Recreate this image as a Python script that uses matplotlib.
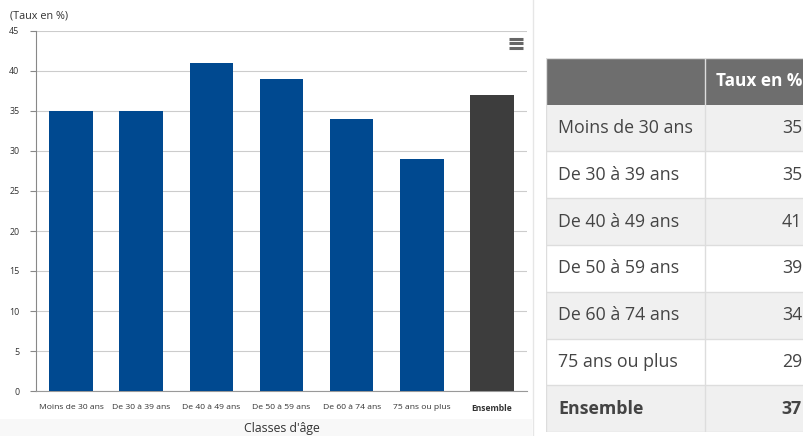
import matplotlib.pyplot as plt
from matplotlib.patches import Rectangle

# data
categories = ["Moins de 30 ans", "De 30 à 39 ans", "De 40 à 49 ans", "De 50 à 59 ans",
              "De 60 à 74 ans", "75 ans ou plus", "Ensemble"]
values = [35, 35, 41, 39, 34, 29, 37]
yticks = [0, 5, 10, 15, 20, 25, 30, 35, 40, 45]
table_header = "Taux en %"

plt.rcParams['font.family'] = ['Open Sans', 'DejaVu Sans']

W, H = 804, 436
fig = plt.figure(figsize=(W / 100, H / 100), dpi=100)

def fx(px):
    return px / W

def fy(py):
    return 1 - py / H

# light band at bottom of chart panel
fig.patches.append(Rectangle((0, 0), fx(532), fy(419), transform=fig.transFigure,
                             facecolor="#f8f8f8", edgecolor="none", zorder=-5))
# separator line
fig.add_artist(plt.Line2D([fx(533), fx(533)], [0, 1], color="#e6e6e6", lw=1))

# ---- chart
ax = fig.add_axes([fx(36), fy(391), fx(527) - fx(36), fy(31) - fy(391)])
ax.patch.set_alpha(0)
colors = ["#004990"] * 6 + ["#3d3d3d"]
x = range(len(categories))
ax.bar(x, values, width=0.62, color=colors, zorder=3)
ax.set_xlim(-0.5, len(categories) - 0.5)
ax.set_ylim(0, 45)
ax.set_yticks(yticks)
ax.set_yticklabels([str(v) for v in yticks], fontsize=6.4, color="#333333")
ax.set_xticks(list(x))
ax.set_xticklabels(categories, fontsize=6.1, color="#333333")
ax.get_xticklabels()[-1].set_fontweight("bold")
ax.tick_params(axis="x", length=0, pad=9)
ax.tick_params(axis="y", length=4, width=0.8, color="#888888", pad=8)
ax.grid(axis="y", color="#cccccc", lw=0.8, zorder=0)
for s in ["top", "right"]:
    ax.spines[s].set_visible(False)
ax.spines["left"].set_color("#888888")
ax.spines["bottom"].set_color("#999999")
ax.set_xlabel("Classes d'âge", fontsize=8.8, color="#333333", labelpad=7)
fig.text(fx(10), fy(16), "(Taux en %)", fontsize=7.8, color="#333333", va="center")

# hamburger menu icon
for dy in (39, 43.5, 48):
    fig.add_artist(plt.Line2D([fx(509), fx(523)], [fy(dy), fy(dy)], color="#666666", lw=2.2,
                              solid_capstyle="butt"))

# ---- table
tab = fig.add_axes([fx(546), fy(432), 1 - fx(546) + fx(3), fy(58) - fy(432)])
tab.set_xlim(546, 807)
nrows = len(categories) + 1
tab.set_ylim(nrows, 0)
tab.axis("off")
col_split = 705
tab.add_patch(Rectangle((546, 0), 807 - 546, 1, facecolor="#6e6e6e", edgecolor="none"))
tab.text(802, 0.5, table_header, ha="right", va="center", fontsize=12.4, color="white",
         fontweight="bold")
for i, (cat, val) in enumerate(zip(categories, values)):
    r = i + 1
    face = "#f0f0f0" if i % 2 == 0 else "white"
    tab.add_patch(Rectangle((546, r), 807 - 546, 1, facecolor=face, edgecolor="none"))
    tab.plot([546, 807], [r + 1, r + 1], color="#dddddd", lw=1)
    weight = "bold" if cat == "Ensemble" else "normal"
    tab.text(558, r + 0.5, cat, ha="left", va="center", fontsize=12.8, color="#444444",
             fontweight=weight)
    tab.text(802, r + 0.5, str(val), ha="right", va="center", fontsize=12.8, color="#444444",
             fontweight=weight)
tab.plot([col_split, col_split], [0, nrows], color="#dddddd", lw=1)
tab.plot([546.5, 546.5], [0, nrows], color="#dddddd", lw=1)
tab.plot([546, 807], [0, 0], color="#dddddd", lw=1)

fig.savefig("out.png", dpi=100)
